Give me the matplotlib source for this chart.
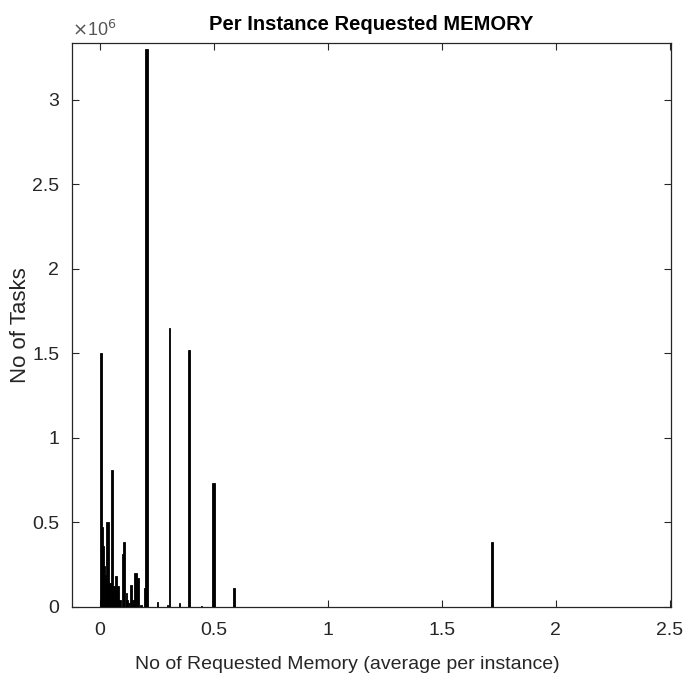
import matplotlib
matplotlib.use("Agg")
import matplotlib.pyplot as plt

plt.rcParams["font.family"] = ["Liberation Sans", "DejaVu Sans"]

# bin centres (average requested memory per instance), bar widths, counts (x 1e6)
mem_centers = [0.004, 0.011, 0.015, 0.020, 0.026, 0.035, 0.046, 0.055, 0.062,
               0.071, 0.080, 0.088, 0.099, 0.108, 0.116, 0.121, 0.129, 0.139,
               0.148, 0.157, 0.167, 0.180, 0.198, 0.206, 0.254, 0.299, 0.306,
               0.350, 0.393, 0.446, 0.499, 0.591, 1.722]
bin_widths = [0.009, 0.005, 0.005, 0.005, 0.007, 0.011, 0.010, 0.007, 0.007,
              0.010, 0.009, 0.007, 0.006, 0.010, 0.004, 0.007, 0.008, 0.010,
              0.008, 0.010, 0.010, 0.008, 0.007, 0.010, 0.008, 0.004, 0.003,
              0.008, 0.010, 0.003, 0.010, 0.009, 0.009]
task_counts = [1.50, 0.47, 0.36, 0.24, 0.19, 0.50, 0.14, 0.81, 0.12,
               0.18, 0.12, 0.04, 0.31, 0.386, 0.08, 0.04, 0.02, 0.13,
               0.04, 0.20, 0.17, 0.01, 0.11, 3.30, 0.03, 0.01, 1.65,
               0.025, 1.516, 0.005, 0.73, 0.11, 0.385]

x_ticks = [0, 0.5, 1, 1.5, 2, 2.5]
x_tick_labels = ["0", "0.5", "1", "1.5", "2", "2.5"]
y_ticks = [0, 0.5, 1, 1.5, 2, 2.5, 3]
y_tick_labels = ["0", "0.5", "1", "1.5", "2", "2.5", "3"]

_AX = "#262626"

fig = plt.figure(figsize=(6.84, 6.81), dpi=100)
ax = fig.add_axes([0.105, 0.109, 0.876, 0.828])

ax.bar(mem_centers, [c * 1e6 for c in task_counts], width=bin_widths,
       color="black", edgecolor="black", linewidth=0.6, zorder=3)

ax.set_xlim(-0.122, 2.505)
ax.set_ylim(0, 3.335e6)
ax.set_xticks(x_ticks)
ax.set_xticklabels(x_tick_labels)
ax.set_yticks([v * 1e6 for v in y_ticks])
ax.set_yticklabels(y_tick_labels)

ax.tick_params(direction="in", top=True, right=True, length=5,
               width=0.8, colors=_AX, labelsize=14, pad=9)
ax.tick_params(axis="x", pad=11)
for sp in ax.spines.values():
    sp.set_color(_AX)
    sp.set_linewidth(0.9)

ax.text(0.0, 1.006, r"$\times$10$^6$", transform=ax.transAxes,
        fontsize=13, color="#555555", ha="left", va="bottom")

ax.set_title("Per Instance Requested MEMORY", fontsize=14.5, fontweight="bold",
             color="black", pad=9)
ax.set_xlabel("No of Requested Memory (average per instance)", fontsize=14,
              color=_AX)
ax.xaxis.set_label_coords(0.46, -0.088)
ax.set_ylabel("No of Tasks", fontsize=16, color=_AX)
ax.yaxis.set_label_coords(-0.068, 0.5)

fig.savefig("out.png", dpi=100, facecolor="white")
